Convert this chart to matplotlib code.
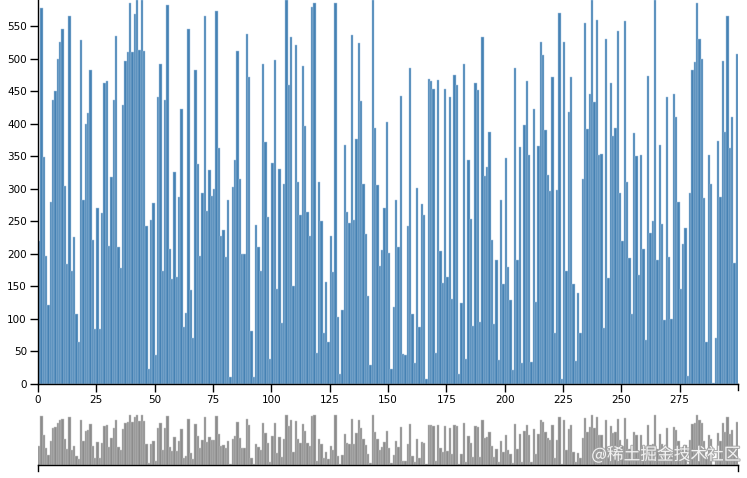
import matplotlib.pyplot as plt
from matplotlib import patheffects

# bar heights, one per index 0..299
vals_a = [220, 578, 349, 197, 121, 280, 436, 450, 500, 525,
          545, 304, 185, 565, 173, 226, 108, 65, 529, 283,
          400, 417, 483, 221, 84, 271, 85, 262, 463, 466,
          212, 318, 436, 535, 210, 178, 428, 497, 510, 585,
          510, 568, 590, 513, 590, 512, 243, 23]
vals_b = [252, 278, 44, 441, 492, 174, 436, 582, 207, 162,
          325, 165, 288, 422, 88, 109, 546, 145, 70, 483,
          338, 196, 293, 565, 266, 329, 289, 299, 573, 363,
          228, 237, 195, 283, 10, 302, 344, 511, 315, 199,
          199, 538, 471, 81, 10, 244, 210, 174, 492, 372,
          257, 39]
vals_c = [340, 498, 146, 330, 94, 308, 590, 460, 533, 150,
          521, 310, 259, 488, 396, 264, 228, 580, 585, 47,
          311, 251, 78, 157, 65, 228, 172, 585, 103, 15,
          114, 367, 264, 247, 536, 252, 376, 524, 435, 308,
          231, 135, 29, 590, 394, 306, 181, 206, 271, 402, 201]
vals_d = [23, 119, 282, 210, 443, 46, 44, 242, 485, 107,
          32, 301, 88, 276, 260, 7, 469, 465, 454, 48,
          467, 204, 155, 453, 165, 441, 130, 474, 460, 16,
          124, 492, 38, 344, 254, 89, 463, 451, 95, 533,
          319, 333, 387, 221, 92, 191, 37, 283, 153, 348,
          179, 129, 21, 485]
vals_e = [190, 364, 33, 398, 465, 352, 34, 422, 126, 366,
          526, 505, 390, 321, 297, 471, 78, 298, 570, 7,
          526, 174, 418, 471, 153, 36, 140, 79, 315, 554,
          392, 446, 590, 433, 560, 352, 354, 86, 530, 163,
          462, 381, 394, 542, 294, 220, 558, 310, 193]
vals_f = [107, 386, 350, 167, 352, 208, 67, 473, 232, 251,
          590, 191, 367, 246, 99, 441, 195, 100, 446, 410,
          279, 146, 215, 240, 12, 294, 483, 495, 586, 530,
          500, 286, 65, 352, 307, 2, 71, 374, 288, 497,
          387, 566, 363, 411, 186, 507]
values = vals_a + vals_b + vals_c + vals_d + vals_e + vals_f
index = list(range(len(values)))

x_ticks = list(range(0, 300, 25))
y_ticks = list(range(0, 600, 50))

W, H = 747, 478
fig = plt.figure(figsize=(W / 100, H / 100), dpi=100)

# main (focus) chart
ax = fig.add_axes([38 / W, (H - 384) / H, 700 / W, 384 / H])
ax.bar(index, values, width=1.0, align='edge', color='#4682b4',
       edgecolor='#a9c8e4', linewidth=0.35)
ax.set_xlim(0, 300)
ax.set_ylim(0, 590)
ax.set_xticks(x_ticks)
ax.set_yticks(y_ticks)
ax.tick_params(labelsize=7.5, length=6, width=1, color='black', pad=2)
for s in ['top', 'right']:
    ax.spines[s].set_visible(False)
ax.spines['left'].set_linewidth(1)
ax.spines['bottom'].set_linewidth(1)
ax.spines['left'].set_zorder(3)
# outer tick at the end of the x domain
ax.plot([300, 300], [0, -6 / 384 * 590], color='black', lw=1, clip_on=False)

# context (overview) chart
ax2 = fig.add_axes([38 / W, (H - 465) / H, 700 / W, 51 / H])
ax2.bar(index, values, width=1.0, align='edge', color='#8c8c8c',
        edgecolor='#c8c8c8', linewidth=0.35)
ax2.set_xlim(0, 300)
ax2.set_ylim(0, 600)
ax2.set_xticks([])
ax2.set_yticks([])
for s in ['top', 'right', 'left']:
    ax2.spines[s].set_visible(False)
ax2.spines['bottom'].set_linewidth(1)
for xe in [0, 300]:
    ax2.plot([xe, xe], [0, -6 / 51 * 600], color='black', lw=1, clip_on=False)

fig.text(740 / W, (H - 455) / H, '@稀土掘金技术社区', ha='right', va='center',
         fontsize=12, color='white', alpha=0.85,
         family=['Noto Sans CJK SC', 'DejaVu Sans'],
         path_effects=[patheffects.withStroke(linewidth=1.5, foreground='#a0a0a0')])

fig.savefig('out.png', dpi=100)
